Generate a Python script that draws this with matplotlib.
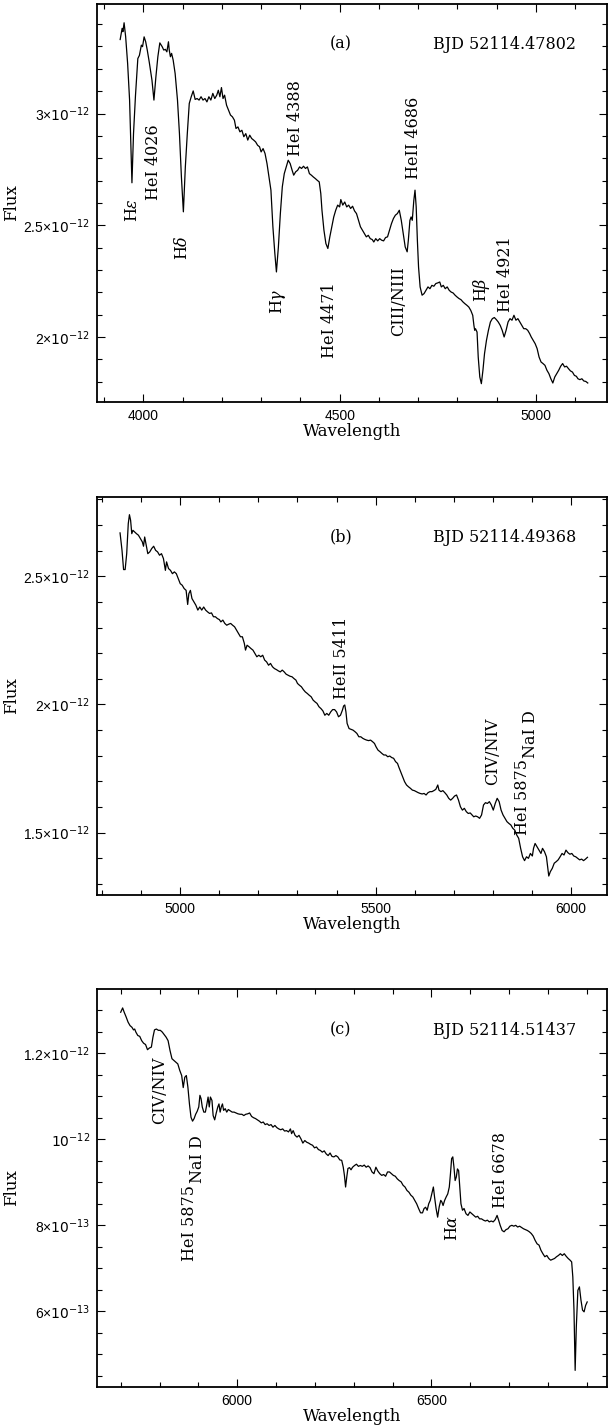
import numpy as np
import matplotlib
matplotlib.use("Agg")
import matplotlib.pyplot as plt
from matplotlib.ticker import MultipleLocator, FuncFormatter

plt.rcParams["font.family"] = ["DejaVu Serif"]
plt.rcParams["mathtext.fontset"] = "dejavuserif"

# ---- panel (a): 3940-5135 A, flux in 1e-12 units
wl_a = [3941, 3946, 3948, 3951, 3955, 3960, 3965, 3971, 3975, 3980, 3986, 3990, 3995, 3998,
        4002, 4006, 4010, 4015, 4022, 4027, 4032, 4037, 4042, 4048, 4052, 4056, 4060, 4064,
        4066, 4069, 4072, 4076, 4081, 4087, 4092, 4097, 4102, 4107, 4112, 4117, 4122, 4127,
        4132, 4137, 4142, 4147, 4152, 4157, 4162, 4167, 4172, 4177, 4182, 4187, 4191, 4195,
        4199, 4203, 4207, 4212, 4217, 4222, 4227, 4232, 4236, 4241, 4246, 4251, 4256, 4261,
        4266, 4271, 4276, 4281, 4286, 4291, 4296, 4300, 4305, 4310, 4315, 4320, 4325, 4330,
        4335, 4339, 4344, 4349, 4354, 4359, 4364, 4369, 4374, 4379, 4383, 4388, 4393, 4398,
        4403, 4408, 4413, 4418, 4423, 4428, 4433, 4438, 4443, 4448, 4452, 4455, 4460, 4465,
        4470, 4475, 4480, 4485, 4490, 4495, 4500, 4503, 4508, 4513, 4518, 4523, 4528, 4533,
        4538, 4543, 4548, 4553, 4558, 4563, 4568, 4573, 4578, 4583, 4587, 4592, 4597, 4602,
        4607, 4612, 4617, 4622, 4627, 4632, 4637, 4642, 4647, 4652, 4657, 4662, 4667, 4672,
        4675, 4679, 4682, 4685, 4689, 4692, 4695, 4698, 4701, 4705, 4710, 4715, 4720, 4725,
        4730, 4735, 4740, 4745, 4750, 4755, 4759, 4764, 4769, 4774, 4779, 4784, 4789, 4794,
        4799, 4804, 4809, 4814, 4819, 4824, 4829, 4834, 4839, 4842, 4844, 4846, 4850, 4853,
        4857, 4861, 4865, 4869, 4874, 4879, 4884, 4889, 4894, 4899, 4904, 4909, 4914, 4919,
        4924, 4929, 4934, 4939, 4944, 4949, 4954, 4959, 4964, 4969, 4974, 4979, 4984, 4988,
        4993, 4998, 5003, 5008, 5013, 5018, 5023, 5028, 5033, 5038, 5043, 5048, 5053, 5058,
        5063, 5068, 5073, 5078, 5083, 5088, 5093, 5098, 5103, 5107, 5112, 5117, 5122, 5127,
        5132]
fx_a = [3.331, 3.381, 3.366, 3.406, 3.343, 3.224, 3.060, 2.690, 2.910, 3.080, 3.246, 3.260,
        3.306, 3.299, 3.343, 3.321, 3.284, 3.231, 3.149, 3.060, 3.164, 3.254, 3.316, 3.299,
        3.284, 3.287, 3.276, 3.321, 3.284, 3.254, 3.269, 3.239, 3.179, 3.060, 2.910, 2.716,
        2.560, 2.761, 2.910, 3.045, 3.075, 3.101, 3.063, 3.067, 3.060, 3.075, 3.060, 3.067,
        3.052, 3.075, 3.060, 3.090, 3.067, 3.082, 3.104, 3.075, 3.116, 3.067, 3.082, 3.037,
        3.015, 2.993, 2.985, 2.970, 2.933, 2.940, 2.918, 2.925, 2.896, 2.910, 2.881, 2.903,
        2.888, 2.881, 2.873, 2.858, 2.851, 2.828, 2.843, 2.821, 2.776, 2.716, 2.657, 2.493,
        2.373, 2.291, 2.403, 2.552, 2.672, 2.731, 2.761, 2.791, 2.776, 2.746, 2.724, 2.739,
        2.746, 2.761, 2.754, 2.764, 2.754, 2.761, 2.731, 2.724, 2.716, 2.709, 2.701, 2.694,
        2.642, 2.567, 2.478, 2.418, 2.396, 2.448, 2.493, 2.537, 2.567, 2.590, 2.582, 2.615,
        2.590, 2.604, 2.582, 2.590, 2.575, 2.585, 2.564, 2.552, 2.522, 2.493, 2.478, 2.463,
        2.448, 2.455, 2.440, 2.436, 2.425, 2.440, 2.430, 2.440, 2.433, 2.430, 2.445, 2.448,
        2.478, 2.507, 2.530, 2.545, 2.552, 2.567, 2.522, 2.463, 2.403, 2.381, 2.433, 2.522,
        2.537, 2.522, 2.612, 2.657, 2.582, 2.433, 2.313, 2.224, 2.187, 2.194, 2.209, 2.224,
        2.216, 2.231, 2.227, 2.239, 2.242, 2.246, 2.224, 2.231, 2.216, 2.224, 2.209, 2.201,
        2.197, 2.187, 2.179, 2.172, 2.167, 2.157, 2.149, 2.142, 2.134, 2.119, 2.097, 2.052,
        2.030, 2.037, 2.022, 1.910, 1.821, 1.791, 1.851, 1.925, 1.985, 2.030, 2.067, 2.082,
        2.087, 2.078, 2.067, 2.052, 2.030, 2.000, 2.030, 2.067, 2.082, 2.075, 2.097, 2.075,
        2.082, 2.067, 2.052, 2.037, 2.037, 2.030, 2.015, 2.000, 1.985, 1.970, 1.948, 1.910,
        1.888, 1.881, 1.873, 1.851, 1.836, 1.813, 1.794, 1.821, 1.836, 1.851, 1.869, 1.881,
        1.866, 1.869, 1.858, 1.848, 1.843, 1.828, 1.824, 1.813, 1.809, 1.813, 1.803, 1.801,
        1.794]

# ---- panel (b): 4845-6042 A
wl_b = [4846, 4851, 4855, 4859, 4863, 4867, 4870, 4873, 4876, 4879, 4883, 4888, 4893, 4898,
        4903, 4906, 4909, 4913, 4917, 4922, 4927, 4932, 4937, 4942, 4947, 4952, 4957, 4962,
        4965, 4970, 4975, 4980, 4985, 4990, 4995, 5000, 5005, 5010, 5015, 5019, 5022, 5026,
        5030, 5035, 5040, 5045, 5050, 5055, 5060, 5065, 5070, 5075, 5080, 5085, 5090, 5095,
        5100, 5104, 5109, 5114, 5119, 5124, 5129, 5134, 5139, 5144, 5149, 5154, 5159, 5164,
        5167, 5171, 5176, 5181, 5186, 5191, 5196, 5201, 5206, 5211, 5216, 5221, 5226, 5231,
        5236, 5241, 5246, 5251, 5256, 5261, 5266, 5271, 5276, 5281, 5286, 5291, 5296, 5300,
        5305, 5310, 5315, 5320, 5325, 5330, 5335, 5340, 5345, 5350, 5355, 5360, 5365, 5370,
        5375, 5380, 5385, 5390, 5395, 5400, 5405, 5410, 5415, 5418, 5421, 5424, 5427, 5432,
        5437, 5442, 5447, 5452, 5457, 5462, 5467, 5472, 5477, 5482, 5487, 5492, 5497, 5501,
        5506, 5511, 5516, 5521, 5526, 5531, 5536, 5541, 5546, 5551, 5556, 5559, 5564, 5569,
        5574, 5579, 5584, 5589, 5594, 5599, 5604, 5609, 5614, 5619, 5624, 5629, 5634, 5639,
        5644, 5649, 5654, 5659, 5662, 5667, 5672, 5677, 5682, 5687, 5692, 5697, 5702, 5707,
        5712, 5717, 5722, 5727, 5732, 5737, 5742, 5747, 5751, 5756, 5761, 5766, 5771, 5776,
        5781, 5786, 5791, 5796, 5801, 5806, 5811, 5816, 5821, 5826, 5831, 5836, 5841, 5846,
        5851, 5856, 5861, 5866, 5871, 5876, 5881, 5886, 5891, 5896, 5901, 5904, 5908, 5913,
        5918, 5923, 5927, 5932, 5937, 5940, 5943, 5947, 5952, 5957, 5962, 5967, 5972, 5977,
        5982, 5987, 5992, 5997, 6002, 6007, 6012, 6017, 6022, 6027, 6032, 6037, 6042]
fx_b = [2.669, 2.601, 2.526, 2.526, 2.588, 2.705, 2.740, 2.718, 2.666, 2.679, 2.673, 2.666,
        2.660, 2.647, 2.634, 2.617, 2.653, 2.621, 2.588, 2.595, 2.608, 2.617, 2.601, 2.595,
        2.582, 2.588, 2.569, 2.523, 2.556, 2.530, 2.523, 2.510, 2.517, 2.510, 2.491, 2.471,
        2.465, 2.452, 2.445, 2.390, 2.432, 2.445, 2.413, 2.400, 2.387, 2.368, 2.380, 2.368,
        2.380, 2.368, 2.361, 2.355, 2.357, 2.342, 2.342, 2.335, 2.331, 2.322, 2.329, 2.316,
        2.309, 2.313, 2.316, 2.309, 2.303, 2.290, 2.277, 2.264, 2.264, 2.238, 2.212, 2.231,
        2.225, 2.218, 2.212, 2.199, 2.186, 2.192, 2.186, 2.192, 2.173, 2.166, 2.153, 2.160,
        2.147, 2.140, 2.136, 2.131, 2.127, 2.134, 2.127, 2.118, 2.114, 2.110, 2.108, 2.101,
        2.095, 2.082, 2.075, 2.069, 2.058, 2.049, 2.043, 2.036, 2.030, 2.017, 2.010, 2.004,
        1.991, 1.984, 1.975, 1.958, 1.965, 1.958, 1.971, 1.980, 1.980, 1.971, 1.952, 1.958,
        1.978, 1.994, 1.998, 1.971, 1.926, 1.906, 1.903, 1.900, 1.894, 1.887, 1.874, 1.874,
        1.868, 1.864, 1.861, 1.859, 1.861, 1.855, 1.848, 1.835, 1.822, 1.816, 1.809, 1.803,
        1.803, 1.796, 1.799, 1.793, 1.790, 1.777, 1.770, 1.757, 1.738, 1.718, 1.699, 1.686,
        1.679, 1.673, 1.666, 1.664, 1.660, 1.656, 1.653, 1.651, 1.653, 1.647, 1.656, 1.660,
        1.660, 1.664, 1.669, 1.686, 1.666, 1.660, 1.664, 1.656, 1.647, 1.634, 1.627, 1.634,
        1.643, 1.647, 1.627, 1.601, 1.588, 1.595, 1.582, 1.575, 1.577, 1.569, 1.562, 1.565,
        1.562, 1.556, 1.569, 1.608, 1.617, 1.614, 1.621, 1.608, 1.588, 1.614, 1.634, 1.621,
        1.588, 1.569, 1.556, 1.543, 1.536, 1.530, 1.517, 1.510, 1.491, 1.478, 1.439, 1.406,
        1.391, 1.406, 1.400, 1.419, 1.409, 1.439, 1.458, 1.445, 1.432, 1.419, 1.439, 1.426,
        1.406, 1.368, 1.331, 1.348, 1.361, 1.381, 1.387, 1.394, 1.406, 1.419, 1.413, 1.432,
        1.422, 1.416, 1.419, 1.409, 1.406, 1.400, 1.394, 1.397, 1.391, 1.397, 1.404]

# ---- panel (c): 5700-6901 A
wl_c = [5700, 5705, 5709, 5714, 5719, 5724, 5729, 5733, 5736, 5739, 5744, 5749, 5754, 5759,
        5764, 5769, 5774, 5779, 5783, 5787, 5792, 5797, 5802, 5807, 5812, 5817, 5822, 5827,
        5832, 5837, 5842, 5847, 5852, 5857, 5861, 5865, 5869, 5873, 5877, 5881, 5885, 5889,
        5893, 5897, 5901, 5904, 5907, 5910, 5914, 5918, 5922, 5925, 5928, 5931, 5935, 5938,
        5942, 5946, 5950, 5953, 5956, 5959, 5962, 5965, 5969, 5973, 5977, 5982, 5987, 5992,
        5997, 6002, 6007, 6012, 6017, 6022, 6027, 6032, 6037, 6042, 6047, 6052, 6057, 6062,
        6067, 6072, 6077, 6082, 6087, 6092, 6097, 6102, 6107, 6112, 6117, 6122, 6127, 6132,
        6137, 6140, 6144, 6149, 6154, 6159, 6164, 6169, 6174, 6179, 6184, 6189, 6194, 6199,
        6204, 6209, 6214, 6219, 6224, 6229, 6234, 6239, 6244, 6249, 6254, 6259, 6264, 6269,
        6273, 6276, 6279, 6282, 6285, 6289, 6293, 6297, 6302, 6307, 6312, 6317, 6322, 6327,
        6332, 6337, 6342, 6347, 6352, 6357, 6362, 6367, 6372, 6377, 6382, 6387, 6392, 6397,
        6402, 6407, 6412, 6417, 6422, 6427, 6432, 6437, 6442, 6447, 6452, 6457, 6462, 6467,
        6472, 6477, 6481, 6485, 6489, 6493, 6497, 6501, 6505, 6508, 6512, 6516, 6520, 6524,
        6527, 6530, 6534, 6538, 6542, 6546, 6549, 6552, 6555, 6558, 6561, 6564, 6567, 6570,
        6573, 6576, 6580, 6584, 6589, 6594, 6599, 6604, 6609, 6614, 6619, 6624, 6629, 6634,
        6639, 6644, 6649, 6654, 6659, 6664, 6669, 6673, 6677, 6682, 6687, 6692, 6697, 6702,
        6707, 6712, 6717, 6722, 6727, 6732, 6737, 6742, 6747, 6752, 6757, 6762, 6767, 6772,
        6777, 6782, 6787, 6792, 6797, 6802, 6807, 6812, 6817, 6822, 6827, 6832, 6837, 6842,
        6847, 6852, 6857, 6861, 6864, 6867, 6870, 6873, 6877, 6881, 6885, 6889, 6893, 6897,
        6901]
fx_c = [1.295, 1.305, 1.295, 1.284, 1.272, 1.264, 1.260, 1.254, 1.256, 1.249, 1.241, 1.239,
        1.229, 1.223, 1.220, 1.208, 1.212, 1.214, 1.237, 1.254, 1.256, 1.253, 1.253, 1.249,
        1.243, 1.237, 1.229, 1.206, 1.187, 1.183, 1.179, 1.175, 1.160, 1.148, 1.120, 1.144,
        1.148, 1.121, 1.082, 1.051, 1.042, 1.048, 1.058, 1.065, 1.075, 1.102, 1.094, 1.075,
        1.063, 1.063, 1.082, 1.098, 1.075, 1.098, 1.090, 1.055, 1.045, 1.061, 1.075, 1.082,
        1.063, 1.075, 1.082, 1.067, 1.071, 1.063, 1.069, 1.066, 1.063, 1.063, 1.061, 1.059,
        1.058, 1.058, 1.055, 1.058, 1.059, 1.061, 1.053, 1.050, 1.048, 1.045, 1.042, 1.038,
        1.040, 1.034, 1.036, 1.032, 1.034, 1.028, 1.032, 1.027, 1.024, 1.022, 1.024, 1.019,
        1.020, 1.017, 1.024, 1.013, 1.020, 1.009, 1.005, 1.009, 1.001, 0.991, 0.997, 0.993,
        0.991, 0.988, 0.986, 0.980, 0.982, 0.976, 0.974, 0.970, 0.973, 0.966, 0.962, 0.968,
        0.960, 0.959, 0.962, 0.959, 0.952, 0.951, 0.935, 0.916, 0.889, 0.912, 0.932, 0.934,
        0.929, 0.935, 0.939, 0.942, 0.937, 0.939, 0.937, 0.940, 0.935, 0.938, 0.934, 0.924,
        0.920, 0.935, 0.926, 0.920, 0.916, 0.918, 0.914, 0.924, 0.924, 0.920, 0.916, 0.914,
        0.908, 0.904, 0.901, 0.893, 0.889, 0.881, 0.877, 0.870, 0.866, 0.858, 0.850, 0.839,
        0.829, 0.829, 0.839, 0.842, 0.835, 0.850, 0.858, 0.873, 0.889, 0.866, 0.839, 0.819,
        0.843, 0.858, 0.854, 0.846, 0.858, 0.866, 0.873, 0.889, 0.920, 0.955, 0.959, 0.935,
        0.904, 0.912, 0.931, 0.927, 0.889, 0.850, 0.835, 0.839, 0.827, 0.823, 0.831, 0.827,
        0.823, 0.819, 0.821, 0.815, 0.815, 0.812, 0.810, 0.812, 0.808, 0.810, 0.808, 0.813,
        0.823, 0.812, 0.800, 0.788, 0.785, 0.790, 0.792, 0.798, 0.800, 0.798, 0.800, 0.796,
        0.798, 0.795, 0.792, 0.790, 0.788, 0.785, 0.781, 0.775, 0.765, 0.757, 0.754, 0.742,
        0.734, 0.727, 0.730, 0.723, 0.719, 0.721, 0.723, 0.727, 0.730, 0.734, 0.730, 0.734,
        0.728, 0.723, 0.719, 0.715, 0.680, 0.603, 0.463, 0.564, 0.649, 0.657, 0.626, 0.603,
        0.599, 0.614, 0.622]

# line identifications: (text, wavelength, flux)
lines_a = [("H$\\epsilon$", 3972, 2.57), ("HeI 4026", 4027, 2.78), ("H$\\delta$", 4101, 2.40),
           ("H$\\gamma$", 4342, 2.16), ("HeI 4388", 4388, 2.98), ("HeI 4471", 4473, 2.075),
           ("CIII/NIII", 4650, 2.16), ("HeII 4686", 4688, 2.89), ("H$\\beta$", 4861, 2.21),
           ("HeI 4921", 4923, 2.28)]
lines_b = [("HeII 5411", 5412, 2.183), ("CIV/NIV", 5800, 1.816), ("HeI 5875", 5876, 1.638),
           ("NaI D", 5896, 1.884)]
lines_c = [("CIV/NIV", 5799, 1.113), ("HeI 5875", 5877, 0.806), ("NaI D", 5897, 0.953),
           ("H$\\alpha$", 6554, 0.795), ("HeI 6678", 6679, 0.928)]

panels = [
    ("(a)", "BJD 52114.47802", wl_a, fx_a, lines_a, (3882, 5181), (1.709, 3.49), 0.1, 3.31,
     [2.0, 2.5, 3.0]),
    ("(b)", "BJD 52114.49368", wl_b, fx_b, lines_b, (4787, 6092), (1.257, 2.809), 0.1, 2.653,
     [1.5, 2.0, 2.5]),
    ("(c)", "BJD 52114.51437", wl_c, fx_c, lines_c, (5639, 6952), (0.4244, 1.349), 0.05, 1.253,
     [0.6, 0.8, 1.0, 1.2]),
]


def flux_fmt(v, pos):
    """Label flux ticks as a x 10^n like the original plot."""
    v = round(v * 1e12, 3)
    if v >= 0.999:
        if abs(v - 1.0) < 1e-6:
            return "$10^{-12}$"
        return ("%g" % v) + "×$10^{-12}$"
    return ("%g" % (v * 10)) + "×$10^{-13}$"


fig = plt.figure(figsize=(6.08, 14.26), dpi=100)
bottoms = [1 - 402 / 1426, 1 - 895 / 1426, 1 - 1387 / 1426]
for (tag, bjd, wl, fx, lines, xl, yl, ymin, ylab, ymaj), b in zip(panels, bottoms):
    ax = fig.add_axes([97 / 608, b, 510 / 608, 398 / 1426])
    ax.plot(wl, np.array(fx) * 1e-12, "k-", lw=0.9)
    ax.set_xlim(*xl)
    ax.set_ylim(yl[0] * 1e-12, yl[1] * 1e-12)
    ax.xaxis.set_major_locator(MultipleLocator(500))
    ax.xaxis.set_minor_locator(MultipleLocator(100))
    ax.set_yticks(np.array(ymaj) * 1e-12)
    ax.yaxis.set_minor_locator(MultipleLocator(ymin * 1e-12))
    ax.yaxis.set_major_formatter(FuncFormatter(flux_fmt))
    ax.tick_params(which="both", direction="in", top=True, right=True, width=0.8)
    ax.tick_params(which="major", length=6, labelsize=10, pad=5)
    ax.tick_params(which="minor", length=3.5)
    fig.canvas.draw()
    for lab in ax.get_xticklabels() + ax.get_yticklabels():
        lab.set_family(["Liberation Sans", "DejaVu Sans"])
        lab.set_math_fontfamily("dejavusans")
    for s in ax.spines.values():
        s.set_linewidth(1.3)
    ax.set_xlabel("Wavelength", fontsize=12)
    ax.set_ylabel("Flux", fontsize=12)
    ax.xaxis.set_label_coords(0.5, -0.054)
    ax.yaxis.set_label_coords(-0.15, 0.5)
    for txt, w, f in lines:
        ax.text(w, f * 1e-12, txt, rotation=90, ha="center", va="center", fontsize=11.5)
    ax.text(xl[0] + (xl[1] - xl[0]) * 0.478, ylab * 1e-12, tag, ha="center", va="center",
            fontsize=11.5)
    ax.text(xl[0] + (xl[1] - xl[0]) * 0.80, ylab * 1e-12, bjd, ha="center", va="center",
            fontsize=11.5)

fig.savefig("out.png", dpi=100)
